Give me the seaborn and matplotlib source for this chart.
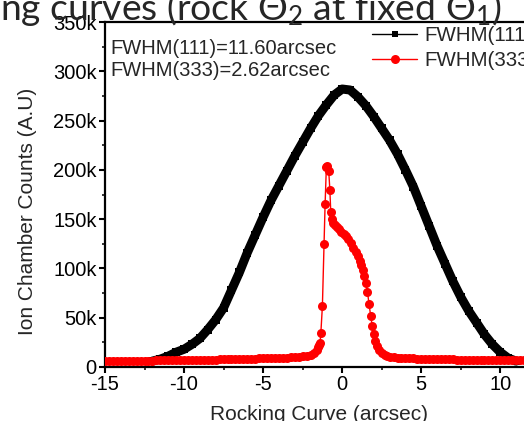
import matplotlib
matplotlib.use("Agg")
import matplotlib.pyplot as plt
import seaborn as sns
import pandas as pd
from matplotlib.lines import Line2D
from matplotlib.ticker import MultipleLocator

# ---- data ----
x111 = [-12, -11.5, -11, -10.5, -10, -9.5, -9, -8.5, -8, -7.5, -7, -6.5, -6, -5.5, -5,
        -4.5, -4, -3.5, -3, -2.5, -2, -1.5, -1, -0.5, 0, 0.5, 1, 1.5, 2, 2.5, 3, 3.5,
        4, 4.5, 5, 5.5, 6, 6.5, 7, 7.5, 8, 8.5, 9, 9.5, 10, 10.5, 11]
y111_k = [6, 8, 11, 15, 18, 23, 29, 38, 48, 60, 78, 96, 116, 134, 152,
          169, 184, 199, 214, 228, 242, 255, 266, 276, 282, 281, 274, 265, 254, 242, 230, 216,
          200, 183, 163, 143, 123, 105, 87, 71, 57, 45, 33, 23, 15, 9, 6]

x333 = [-15, -14.75, -14.5, -14.25, -14, -13.75, -13.5, -13.25, -13, -12.75, -12.5, -12.25,
        -12, -11.75, -11.5, -11.25, -11, -10.75, -10.5, -10.25, -10, -9.75, -9.5, -9.25,
        -9, -8.75, -8.5, -8.25, -8, -7.75, -7.5, -7.25, -7, -6.75, -6.5, -6.25, -6, -5.75,
        -5.5, -5.25, -5, -4.75, -4.5, -4.25, -4, -3.75, -3.5, -3.25, -3, -2.75, -2.5, -2.25,
        -2, -1.8, -1.6, -1.5, -1.45, -1.4, -1.35, -1.25, -1.15, -1.08, -1.0, -0.93, -0.85,
        -0.78, -0.72, -0.65, -0.55, -0.45, -0.35, -0.2, -0.05, 0.1, 0.25, 0.4, 0.55, 0.7,
        0.85, 1.0, 1.1, 1.2, 1.3, 1.4, 1.5, 1.6, 1.7, 1.8, 1.9, 2.0, 2.1, 2.2, 2.35, 2.5,
        2.7, 2.85, 3.0, 3.25, 3.5, 3.75, 4.0, 4.25, 4.5, 4.75, 5.0, 5.25, 5.5, 5.75, 6.0,
        6.25, 6.5, 6.75, 7.0, 7.25, 7.5, 7.75, 8.0, 8.25, 8.5, 8.75, 9.0, 9.25, 9.5, 9.75,
        10.0, 10.25, 10.5, 10.75, 11.0, 11.25, 11.5]
y333_k = [6.0, 6.0, 6.0, 6.1, 6.1, 6.2, 6.2, 6.3, 6.3, 6.4, 6.4, 6.5,
          6.5, 6.6, 6.6, 6.7, 6.8, 6.8, 6.9, 7.0, 7.0, 7.1, 7.1, 7.2,
          7.3, 7.3, 7.4, 7.5, 7.6, 7.7, 7.8, 7.9, 8.0, 8.1, 8.2, 8.3, 8.4, 8.5,
          8.6, 8.7, 8.8, 8.9, 9.0, 9.2, 9.3, 9.5, 9.6, 9.8, 10.0, 10.3, 10.8, 11.3,
          12, 14, 17, 20, 22, 24, 34, 62, 125, 165, 203, 204, 199,
          180, 157, 150, 146, 144, 142, 140, 137, 135, 133, 130, 126, 121,
          117, 113, 108, 103, 98, 92, 85, 76, 64, 52, 42, 33, 26, 21, 17, 14,
          12, 11.2, 10.5, 10.0, 9.5, 9.3, 9.0, 8.9, 8.8, 8.6, 8.5, 8.4, 8.3, 8.1, 8.0,
          7.9, 7.8, 7.8, 7.7, 7.6, 7.5, 7.5, 7.4, 7.4, 7.3, 7.3, 7.2, 7.2, 7.1, 7.1,
          7.0, 7.0, 6.9, 6.9, 6.8, 6.8, 6.7]

yticks = [0, 50000, 100000, 150000, 200000, 250000, 300000, 350000]
ytick_labels = ["0", "50k", "100k", "150k", "200k", "250k", "300k", "350k"]
xticks = [-15, -10, -5, 0, 5, 10]
xtick_labels = ["-15", "-10", "-5", "0", "5", "10"]
series_labels = ["FWHM(111)", "FWHM(333)"]
notes = ["FWHM(111)=11.60arcsec", "FWHM(333)=2.62arcsec"]
title_text = "ng curves (rock Θ$_2$ at fixed Θ$_1$)"
xlabel = "Rocking Curve (arcsec)"
ylabel = "Ion Chamber Counts (A.U)"

df111 = pd.DataFrame({"x": x111, "y": [v * 1000 for v in y111_k]})
df333 = pd.DataFrame({"x": x333, "y": [v * 1000 for v in y333_k]})

sns.set_style("ticks")
plt.rcParams["font.family"] = ["Liberation Sans", "DejaVu Sans"]
plt.rcParams["mathtext.fontset"] = "custom"
plt.rcParams["mathtext.rm"] = "Lato"
plt.rcParams["mathtext.it"] = "Lato"

W, H = 524, 421
fig = plt.figure(figsize=(W / 100, H / 100), dpi=100)
ax = fig.add_axes([105 / W, (H - 367) / H, 419 / W, 345 / H])

sns.lineplot(data=df111, x="x", y="y", ax=ax, color="black", lw=6.5, marker="s",
             markersize=5.5, markeredgewidth=0, estimator=None, sort=False, zorder=2)
sns.lineplot(data=df333, x="x", y="y", ax=ax, color="red", lw=1.0, marker="o",
             markersize=6.5, markeredgewidth=0, estimator=None, sort=False, zorder=3)

ax.set_xlim(-15, 11.5)
ax.set_ylim(0, 350000)
ax.set_xticks(xticks)
ax.set_xticklabels(xtick_labels)
ax.set_yticks(yticks)
ax.set_yticklabels(ytick_labels)
ax.xaxis.set_minor_locator(MultipleLocator(2.5))
ax.yaxis.set_minor_locator(MultipleLocator(25000))

for s in ["left", "bottom", "top"]:
    ax.spines[s].set_linewidth(1.6)
    ax.spines[s].set_color("black")
ax.spines["right"].set_visible(False)
ax.tick_params(axis="both", which="major", direction="out", length=4.5, width=1.5,
               labelsize=14.5, pad=1.5, colors="black")
ax.tick_params(axis="both", which="minor", direction="out", length=2.5, width=1.3)
ax.tick_params(top=False, right=False, which="both")

ax.set_xlabel(xlabel, fontsize=15)
ax.set_ylabel(ylabel, fontsize=15)
ax.xaxis.set_label_coords((319 - 105) / 419, (367 - 405) / 345)
ax.yaxis.set_label_coords((28 - 105) / 419, (367 - 211) / 345)
ax.yaxis.label.set_va("center")
ax.yaxis.label.set_ha("center")

handles = [
    Line2D([], [], color="black", lw=1.0, marker="s", markersize=5, markeredgewidth=0),
    Line2D([], [], color="red", lw=1.0, marker="o", markersize=6.5, markeredgewidth=0),
]
ax.legend(handles, series_labels, loc="upper left", bbox_to_anchor=(372 / W, 1 - 26 / H),
          bbox_transform=fig.transFigure, frameon=False, fontsize=14.8, borderpad=0,
          borderaxespad=0, handlelength=2.2, handletextpad=0.33, labelspacing=0.3)

fig.text(110 / W, 1 - 48 / H, notes[0], fontsize=14.5, va="center", ha="left")
fig.text(110 / W, 1 - 71 / H, notes[1], fontsize=14.5, va="center", ha="left")

fig.text(0, 1 - 20 / H, title_text, fontsize=26.8, family="Lato", va="baseline",
         ha="left", zorder=10)

fig.savefig("out.png", dpi=100)
